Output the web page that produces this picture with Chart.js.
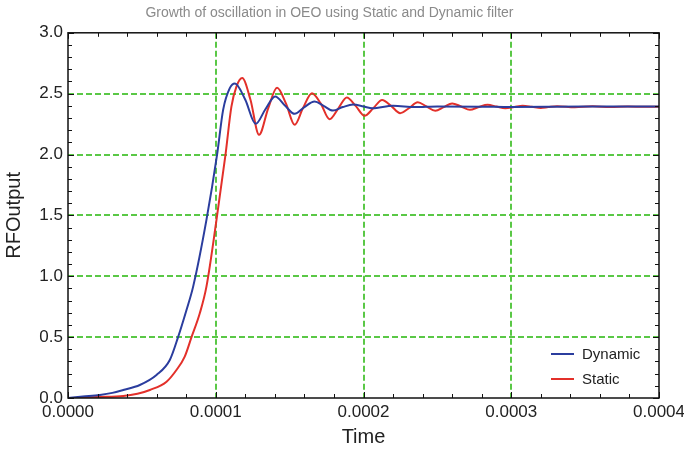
<!DOCTYPE html>
<html>
<head>
<meta charset="utf-8">
<script src="https://cdn.jsdelivr.net/npm/chart.js@4.4.1/dist/chart.umd.min.js"></script>
<style>
  html, body { margin: 0; padding: 0; background: #fff; }
  #wrap { width: 684px; height: 450px; }
</style>
</head>
<body>
<div id="wrap"><canvas id="osc-chart" width="684" height="450"></canvas></div>
<script>
// time axis (seconds) and RF output
var dynTime = [0, 0.1e-4, 0.216e-4, 0.3e-4, 0.374e-4, 0.486e-4, 0.599e-4, 0.689e-4, 0.745e-4, 0.802e-4,
  0.847e-4, 0.937e-4, 1.009e-4, 1.05e-4, 1.095e-4, 1.13e-4, 1.2e-4, 1.27e-4, 1.335e-4,
  1.402e-4, 1.47e-4, 1.534e-4, 1.6e-4, 1.669e-4, 1.73e-4, 1.793e-4, 1.86e-4, 1.93e-4, 2.0e-4,
  2.06e-4, 2.2e-4, 2.35e-4, 2.5e-4, 2.8e-4, 3.0e-4, 3.5e-4, 4.0e-4];
var dynValue = [0, 0.012, 0.025, 0.042, 0.066, 0.107, 0.189, 0.312, 0.5, 0.723,
  0.915, 1.463, 2.0, 2.367, 2.545, 2.584, 2.45, 2.252, 2.37,
  2.477, 2.40, 2.334, 2.39, 2.435, 2.40, 2.361, 2.39, 2.41, 2.395,
  2.38, 2.40, 2.39, 2.395, 2.393, 2.39, 2.394, 2.394];

var staTime = [0, 0.1e-4, 0.2e-4, 0.374e-4, 0.47e-4, 0.554e-4, 0.667e-4, 0.734e-4, 0.79e-4, 0.836e-4,
  0.892e-4, 0.937e-4, 1.005e-4, 1.066e-4, 1.106e-4, 1.14e-4, 1.179e-4,
  1.235e-4, 1.293e-4, 1.355e-4, 1.415e-4, 1.475e-4, 1.534e-4, 1.59e-4, 1.651e-4, 1.71e-4, 1.77e-4,
  1.83e-4, 1.887e-4, 1.947e-4, 2.007e-4, 2.066e-4, 2.126e-4, 2.187e-4, 2.248e-4, 2.307e-4, 2.367e-4,
  2.426e-4, 2.486e-4, 2.543e-4, 2.6e-4, 2.66e-4, 2.72e-4, 2.78e-4, 2.84e-4, 2.9e-4, 2.96e-4,
  3.02e-4, 3.077e-4, 3.14e-4, 3.2e-4, 3.25e-4, 3.31e-4, 3.43e-4, 3.55e-4, 3.67e-4, 3.79e-4, 3.9e-4, 4.0e-4];
var staValue = [0, 0.003, 0.008, 0.016, 0.035, 0.066, 0.134, 0.23, 0.34, 0.5,
  0.696, 0.915, 1.463, 2.0, 2.394, 2.558, 2.628,
  2.45, 2.162, 2.38, 2.548, 2.42, 2.244, 2.38, 2.504, 2.42, 2.29,
  2.38, 2.468, 2.40, 2.318, 2.38, 2.449, 2.40, 2.34, 2.38, 2.43,
  2.395, 2.359, 2.39, 2.42, 2.395, 2.367, 2.39, 2.408, 2.394, 2.38,
  2.39, 2.40, 2.392, 2.383, 2.39, 2.397, 2.388, 2.396, 2.39, 2.395, 2.392, 2.393];

var seriesNames = ['Dynamic', 'Static'];
var seriesColors = ['#2b3d9e', '#e3302a'];
var xTicks = [0, 0.0001, 0.0002, 0.0003, 0.0004];
var yTicks = [0, 0.5, 1.0, 1.5, 2.0, 2.5, 3.0];

function toPoints(xs, ys) {
  var pts = [];
  for (var i = 0; i < xs.length; i++) pts.push({x: xs[i], y: ys[i]});
  return pts;
}

var FONT = '"Liberation Sans", Arial, sans-serif';

// green dashed grid, framed box with inward ticks, and the legend
var framePlugin = {
  id: 'frame',
  beforeDatasetsDraw: function(chart) {
    var ctx = chart.ctx, a = chart.chartArea;
    var xs = chart.scales.x, ys = chart.scales.y;
    ctx.save();
    ctx.strokeStyle = '#5ac846';
    ctx.lineWidth = 2;
    ctx.setLineDash([6, 3]);
    xTicks.forEach(function(v) {
      var px = Math.round(xs.getPixelForValue(v));
      if (px <= a.left + 1 || px >= a.right - 1) return;
      ctx.beginPath(); ctx.moveTo(px, a.top); ctx.lineTo(px, a.bottom); ctx.stroke();
    });
    yTicks.forEach(function(v) {
      var py = Math.round(ys.getPixelForValue(v));
      if (py <= a.top + 1 || py >= a.bottom - 1) return;
      ctx.beginPath(); ctx.moveTo(a.left, py); ctx.lineTo(a.right, py); ctx.stroke();
    });
    ctx.restore();
  },
  afterDatasetsDraw: function(chart) {
    var ctx = chart.ctx, a = chart.chartArea;
    var xs = chart.scales.x, ys = chart.scales.y;
    ctx.save();
    ctx.strokeStyle = '#111';
    ctx.lineWidth = 1;
    ctx.setLineDash([]);
    var i, px, py, len;
    // x ticks: major every 0.0001, minor every 0.00002
    for (i = 0; i <= 20; i++) {
      px = Math.round(xs.getPixelForValue(i * 0.00002)) + 0.5;
      len = (i % 5 === 0) ? 6 : 4;
      ctx.beginPath();
      ctx.moveTo(px, a.bottom); ctx.lineTo(px, a.bottom - len);
      ctx.moveTo(px, a.top); ctx.lineTo(px, a.top + len);
      ctx.stroke();
    }
    // y ticks: major every 0.5, minor every 0.1
    for (i = 0; i <= 30; i++) {
      py = Math.round(ys.getPixelForValue(i * 0.1)) + 0.5;
      len = (i % 5 === 0) ? 6 : 4;
      ctx.beginPath();
      ctx.moveTo(a.left, py); ctx.lineTo(a.left + len, py);
      ctx.moveTo(a.right, py); ctx.lineTo(a.right - len, py);
      ctx.stroke();
    }
    ctx.lineWidth = 1.5;
    ctx.strokeRect(a.left, a.top, a.right - a.left, a.bottom - a.top);

    // legend, lower right inside the plot
    ctx.font = '15px ' + FONT;
    ctx.textBaseline = 'middle';
    ctx.textAlign = 'left';
    ctx.lineWidth = 2;
    chart.data.datasets.forEach(function(ds, k) {
      var ly = a.bottom - 44 + k * 25;
      ctx.strokeStyle = ds.borderColor;
      ctx.beginPath(); ctx.moveTo(a.right - 108, ly); ctx.lineTo(a.right - 85, ly); ctx.stroke();
      ctx.fillStyle = '#222';
      ctx.fillText(ds.label, a.right - 77, ly + 1);
    });
    ctx.restore();
  }
};

var config = {
  type: 'line',
  data: {
    datasets: [
      {
        label: seriesNames[0],
        data: toPoints(dynTime, dynValue),
        borderColor: seriesColors[0],
        borderWidth: 2,
        pointRadius: 0,
        cubicInterpolationMode: 'monotone',
        fill: false
      },
      {
        label: seriesNames[1],
        data: toPoints(staTime, staValue),
        borderColor: seriesColors[1],
        borderWidth: 2,
        pointRadius: 0,
        cubicInterpolationMode: 'monotone',
        fill: false
      }
    ]
  },
  options: {
    responsive: false,
    animation: false,
    layout: { padding: { left: 0, right: 25, top: 0, bottom: 0 } },
    plugins: {
      legend: { display: false },
      tooltip: { enabled: false },
      title: {
        display: true,
        text: 'Growth of oscillation in OEO using Static and Dynamic filter',
        color: '#8a8a8a',
        font: { family: FONT, size: 14, weight: 'normal' },
        padding: { top: 5, bottom: 11 }
      }
    },
    scales: {
      x: {
        type: 'linear',
        min: 0,
        max: 0.0004,
        grid: { display: false, drawTicks: false },
        border: { display: false },
        afterBuildTicks: function(s) { s.ticks = xTicks.map(function(v) { return {value: v}; }); },
        ticks: {
          color: '#222',
          font: { family: FONT, size: 17 },
          padding: 4,
          maxRotation: 0,
          callback: function(v) { return Number(v).toFixed(4); }
        },
        title: {
          display: true,
          text: 'Time',
          color: '#222',
          font: { family: FONT, size: 20 },
          padding: { top: 0, bottom: 1 }
        },
        afterFit: function(s) { s.height = 52; s.paddingLeft = 0; s.paddingRight = 0; }
      },
      y: {
        type: 'linear',
        min: 0,
        max: 3.0,
        grid: { display: false, drawTicks: false },
        border: { display: false },
        afterBuildTicks: function(s) { s.ticks = yTicks.map(function(v) { return {value: v}; }); },
        ticks: {
          color: '#222',
          font: { family: FONT, size: 17 },
          padding: 5,
          callback: function(v) { return Number(v).toFixed(1); }
        },
        title: {
          display: true,
          text: 'RFOutput',
          color: '#222',
          font: { family: FONT, size: 20 },
          padding: { top: 2, bottom: 0 }
        },
        afterFit: function(s) { s.width = 68; s.paddingTop = 0; s.paddingBottom = 0; }
      }
    }
  },
  plugins: [framePlugin]
};

var ctx = document.getElementById('osc-chart').getContext('2d');
window.oscChart = new Chart(ctx, config);
</script>
</body>
</html>
